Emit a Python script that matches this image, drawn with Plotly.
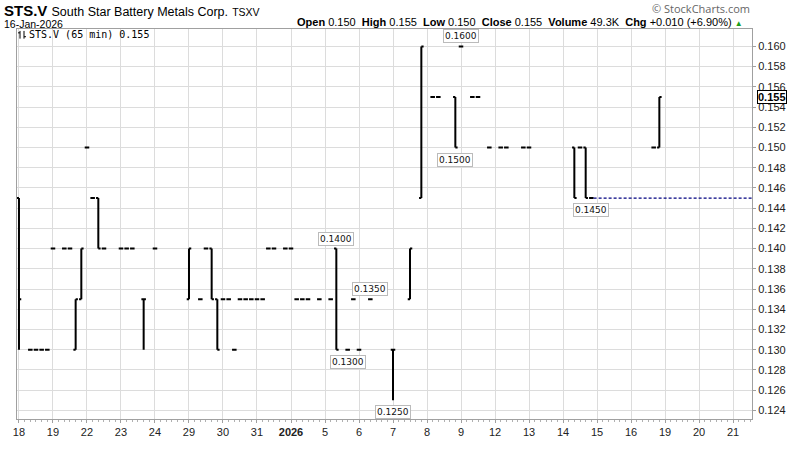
import plotly.graph_objects as go

# ---------------- data ----------------
day_labels = ["18", "19", "22", "23", "24", "29", "30", "31", "<b>2026</b>", "5", "6", "7",
              "8", "9", "12", "13", "14", "15", "16", "19", "20", "21"]
SLOTS_PER_DAY = 6  # 65-minute bars per session

bar_day = [0, 0, 0, 0, 0, 1, 1, 1, 1, 1, 2, 2, 2, 2, 3, 3, 3, 3, 4,
           5, 5, 5, 5, 5, 6, 6, 6, 6, 6, 6, 7, 7, 7, 7, 7, 8, 8, 8, 8, 8,
           9, 9, 9, 9, 10, 10, 11, 11, 11, 12, 12, 12, 13, 13, 13, 13,
           14, 14, 14, 15, 16, 16, 16, 16, 18, 18]
bar_slot = [0, 2, 3, 4, 5, 0, 2, 3, 4, 5, 0, 1, 2, 3, 0, 1, 2, 4, 0,
            0, 2, 3, 4, 5, 0, 1, 2, 3, 4, 5, 0, 1, 2, 3, 5, 0, 1, 2, 3, 5,
            1, 2, 4, 5, 0, 2, 0, 3, 5, 1, 2, 5, 0, 2, 3, 5,
            1, 2, 5, 0, 2, 3, 4, 5, 4, 5]
opens = [.145, .130, .130, .130, .130, .140, .140, .140, .130, .135, .150, .145, .145, .140,
         .140, .140, .140, .135, .140, .135, .135, .140, .140, .135,
         .135, .135, .130, .135, .135, .135, .135, .135, .140, .140, .140,
         .140, .135, .135, .135, .135, .135, .140, .130, .135, .130, .135,
         .130, .135, .145, .155, .155, .155, .160, .155, .155, .150,
         .150, .150, .150, .150, .150, .150, .150, .145, .150, .150]
highs = [.145, .130, .130, .130, .130, .140, .140, .140, .135, .140, .150, .145, .145, .140,
         .140, .140, .140, .135, .140, .140, .135, .140, .140, .135,
         .135, .135, .130, .135, .135, .135, .135, .135, .140, .140, .140,
         .140, .135, .135, .135, .135, .135, .140, .130, .135, .130, .135,
         .130, .140, .160, .155, .155, .155, .160, .155, .155, .150,
         .150, .150, .150, .150, .150, .150, .150, .145, .150, .155]
lows = [.130, .130, .130, .130, .130, .140, .140, .140, .130, .135, .150, .145, .140, .140,
        .140, .140, .140, .130, .140, .135, .135, .140, .135, .130,
        .135, .135, .130, .135, .135, .135, .135, .135, .140, .140, .140,
        .140, .135, .135, .135, .135, .135, .130, .130, .135, .130, .135,
        .125, .135, .145, .155, .155, .150, .160, .155, .155, .150,
        .150, .150, .150, .150, .145, .150, .145, .145, .150, .150]
closes = [.135, .130, .130, .130, .130, .140, .140, .140, .135, .140, .150, .145, .140, .140,
          .140, .140, .140, .135, .140, .140, .135, .140, .135, .130,
          .135, .135, .130, .135, .135, .135, .135, .135, .140, .140, .140,
          .140, .135, .135, .135, .135, .135, .130, .130, .135, .130, .135,
          .130, .140, .160, .155, .155, .150, .160, .155, .155, .150,
          .150, .150, .150, .150, .145, .150, .145, .145, .150, .155]

# price call-out labels
label_day = [13, 12, 9, 10, 9, 11, 16]
label_slot = [0, 5, 2, 2, 4, 0, 5]
label_price = [0.160, 0.150, 0.140, 0.135, 0.130, 0.125, 0.145]
label_above = [True, False, True, True, False, False, False]

prev_close_day, prev_close_slot, prev_close = 16, 5, 0.145
last_price = 0.155
y_ticks = [0.124, 0.126, 0.128, 0.130, 0.132, 0.134, 0.136, 0.138, 0.140, 0.142,
           0.144, 0.146, 0.148, 0.150, 0.152, 0.154, 0.156, 0.158, 0.160]

# ---------------- geometry ----------------
W, H = 800, 450
ML, MR, MT, MB = 17, 48, 29, 16
PW, PH = W - ML - MR, H - MT - MB


def px(x):
    return (x - ML) / PW


def py(y):
    return 1 - (y - MT) / PH


xs = [d * SLOTS_PER_DAY + s for d, s in zip(bar_day, bar_slot)]
x_range = [-0.35, 129.35]
y_range = [0.12315, 0.16172]

fig = go.Figure()
fig.add_trace(go.Ohlc(
    x=xs, open=opens, high=highs, low=lows, close=closes,
    increasing=dict(line=dict(color="black", width=2)),
    decreasing=dict(line=dict(color="black", width=2)),
    tickwidth=0.4, showlegend=False, hoverinfo="skip",
))

annotations = []
for d, s, p, above in zip(label_day, label_slot, label_price, label_above):
    annotations.append(dict(
        x=d * SLOTS_PER_DAY + s, y=p, xref="x", yref="y",
        text=f"{p:.4f}", showarrow=False,
        yanchor="bottom" if above else "top",
        yshift=3 if above else -5,
        font=dict(family="DejaVu Sans", size=9, color="#111"),
        bgcolor="white", bordercolor="#bbbbbb", borderwidth=1, borderpad=1,
    ))

# last price tag
annotations.append(dict(
    x=1, y=last_price, xref="paper", yref="y", xanchor="left", xshift=5,
    text=f"<b>{last_price:.3f}</b>", showarrow=False,
    font=dict(family="Liberation Sans", size=11, color="black"),
    bgcolor="white", bordercolor="black", borderwidth=1, borderpad=0,
))

# header texts
annotations += [
    dict(x=px(2), y=py(10), xref="paper", yref="paper", xanchor="left", yanchor="middle",
         showarrow=False, align="left",
         text="<b>STS.V</b> <span style='font-size:12.5px'>South Star Battery Metals Corp.</span>"
              " <span style='font-size:10.5px'>TSXV</span>",
         font=dict(family="Liberation Sans", size=15, color="black")),
    dict(x=px(2), y=py(23.5), xref="paper", yref="paper", xanchor="left", yanchor="middle",
         showarrow=False, text="16-Jan-2026",
         font=dict(family="Liberation Sans", size=10.5, color="black")),
    dict(x=px(745), y=py(22), xref="paper", yref="paper", xanchor="right", yanchor="middle",
         showarrow=False,
         text="<b>Open</b> 0.150  <b>High</b> 0.155  <b>Low</b> 0.150  <b>Close</b> 0.155  "
              "<b>Volume</b> 49.3K  <b>Chg</b> +0.010 (+6.90%) "
              "<span style='color:#1a9e1a;font-size:8px'>▲</span>",
         font=dict(family="Liberation Sans", size=11, color="black")),
    dict(x=px(752), y=py(8), xref="paper", yref="paper", xanchor="right", yanchor="middle",
         showarrow=False, text="© StockCharts.com",
         font=dict(family="Open Sans", size=11, color="#666")),
    dict(x=px(27), y=py(35), xref="paper", yref="paper", xanchor="left", yanchor="middle",
         showarrow=False, text=f"STS.V (65 min) {last_price:.3f}",
         font=dict(family="DejaVu Sans Mono", size=10, color="black")),
]

shapes = [
    # previous close reference line
    dict(type="line", xref="x", yref="y",
         x0=prev_close_day * SLOTS_PER_DAY + prev_close_slot + 0.4, x1=x_range[1],
         y0=prev_close, y1=prev_close,
         line=dict(color="#000080", width=1.2, dash="3px,2px")),
    # small OHLC icon in legend
    dict(type="line", xref="paper", yref="paper", x0=px(20), x1=px(20), y0=py(31), y1=py(39),
         line=dict(color="black", width=1)),
    dict(type="line", xref="paper", yref="paper", x0=px(24), x1=px(24), y0=py(31), y1=py(39),
         line=dict(color="black", width=1)),
    dict(type="line", xref="paper", yref="paper", x0=px(18), x1=px(20), y0=py(33), y1=py(33),
         line=dict(color="black", width=1)),
    dict(type="line", xref="paper", yref="paper", x0=px(24), x1=px(26), y0=py(37), y1=py(37),
         line=dict(color="black", width=1)),
]

fig.update_layout(
    width=W, height=H,
    margin=dict(l=ML, r=MR, t=MT, b=MB),
    paper_bgcolor="white", plot_bgcolor="white",
    annotations=annotations, shapes=shapes,
    xaxis=dict(
        range=x_range, rangeslider=dict(visible=False),
        tickvals=[i * SLOTS_PER_DAY for i in range(len(day_labels))], ticktext=day_labels,
        showgrid=True, gridcolor="#dcdcdc", gridwidth=1, zeroline=False,
        showline=True, linecolor="#a0a0a0", mirror=True,
        ticks="outside", ticklen=3, tickcolor="#a0a0a0",
        minor=dict(dtick=1, ticks="outside", ticklen=2, tickcolor="#b0b0b0", showgrid=False),
        tickfont=dict(family="Liberation Sans", size=11, color="#222"),
    ),
    yaxis=dict(
        range=y_range, side="right", tickvals=y_ticks, tickformat=".3f",
        showgrid=True, gridcolor="#dcdcdc", gridwidth=1, zeroline=False,
        showline=True, linecolor="#a0a0a0", mirror=True,
        ticks="outside", ticklen=3, tickcolor="#a0a0a0",
        tickfont=dict(family="Liberation Sans", size=11, color="#222"),
    ),
    font=dict(family="Liberation Sans"),
)

fig.write_html("out.html", config={"displayModeBar": False},
               post_script="document.body.style.margin='0';")
